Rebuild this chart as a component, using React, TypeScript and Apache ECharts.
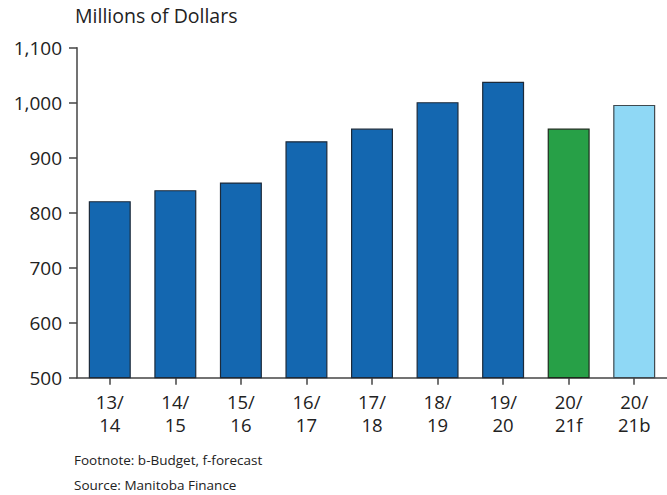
import React, { useEffect, useRef } from "react";
import * as echarts from "echarts";

const categories = ["13/\n14", "14/\n15", "15/\n16", "16/\n17", "17/\n18", "18/\n19", "19/\n20", "20/\n21f", "20/\n21b"];
const values = [821, 841, 855, 930, 953, 1001, 1038, 953, 996];
const barColors = ["#1467b0", "#1467b0", "#1467b0", "#1467b0", "#1467b0", "#1467b0", "#1467b0", "#27a047", "#8fd8f5"];
const borderColors = ["#1c2a3a", "#1c2a3a", "#1c2a3a", "#1c2a3a", "#1c2a3a", "#1c2a3a", "#1c2a3a", "#1c2a1c", "#3f4a50"];
const yTitle = "Millions of Dollars";
const footnote = "Footnote: b-Budget, f-forecast";
const source = "Source: Manitoba Finance";

const FONT = "Open Sans";

export default function App() {
  const ref = useRef<HTMLDivElement>(null);
  useEffect(() => {
    if (!ref.current) return;
    const chart = echarts.init(ref.current, null, { renderer: "svg" });
    chart.setOption({
      animation: false,
      backgroundColor: "#ffffff",
      textStyle: { fontFamily: FONT },
      grid: { left: 77, right: 0, top: 47.7, bottom: 117.3, containLabel: false },
      xAxis: {
        type: "category",
        data: categories,
        axisLine: { show: true, lineStyle: { color: "#444", width: 1.5 } },
        axisTick: { show: true, length: 7, alignWithLabel: true, lineStyle: { color: "#444", width: 1.5 } },
        axisLabel: { color: "#222", fontSize: 18.5, lineHeight: 23, margin: 12, fontFamily: FONT, interval: 0 },
      },
      yAxis: {
        type: "value",
        min: 500,
        max: 1100,
        interval: 100,
        splitLine: { show: false },
        axisLine: { show: true, lineStyle: { color: "#444", width: 1.5 } },
        axisTick: { show: true, length: 8, inside: false, lineStyle: { color: "#444", width: 1.5 } },
        axisLabel: {
          color: "#222",
          fontSize: 19,
          margin: 15,
          fontFamily: FONT,
          formatter: (v: number) => v.toLocaleString("en-US"),
        },
      },
      series: [
        {
          type: "bar",
          barWidth: 42,
          data: values.map((v, i) => ({
            value: v,
            itemStyle: { color: barColors[i], borderColor: borderColors[i], borderWidth: 1.2 },
          })),
        },
      ],
      graphic: [
        { type: "text", left: 75, top: 5, style: { text: yTitle, fontSize: 19.5, fill: "#222", fontFamily: FONT } },
        { type: "text", left: 74, top: 453, style: { text: footnote, fontSize: 13.5, fill: "#222", fontFamily: FONT } },
        { type: "text", left: 74, top: 478, style: { text: source, fontSize: 13.5, fill: "#222", fontFamily: FONT } },
      ],
    });
    return () => chart.dispose();
  }, []);
  return <div ref={ref} style={{ position: "fixed", left: 0, top: 0, width: 667, height: 495 }} />;
}
